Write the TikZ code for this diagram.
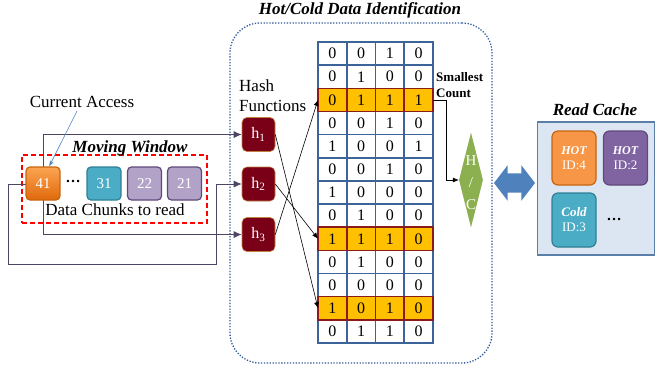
\documentclass[tikz,border=0pt]{standalone}
\usepackage{fontspec}
\setmainfont{Liberation Serif}
\usepackage{xcolor}
\usetikzlibrary{arrows.meta, shapes.geometric, shapes.arrows}

\definecolor{gridblue}{HTML}{3D6499}
\definecolor{hitfill}{HTML}{FFC000}
\definecolor{hitred}{HTML}{8B1A1A}
\definecolor{hashred}{HTML}{7A0018}
\definecolor{hashedge}{HTML}{C08040}
\definecolor{wirepurple}{HTML}{4E4466}
\definecolor{dotblue}{HTML}{2F5B9A}
\definecolor{orangetop}{HTML}{FBA552}
\definecolor{orangebot}{HTML}{E0690B}
\definecolor{orangeedge}{HTML}{C8640E}
\definecolor{tealfill}{HTML}{4BACC6}
\definecolor{tealedge}{HTML}{2F7F93}
\definecolor{lilacfill}{HTML}{B3A2C7}
\definecolor{lilacedge}{HTML}{5F497A}
\definecolor{hcgreen}{HTML}{8CB050}
\definecolor{swapblue}{HTML}{4F81BD}
\definecolor{cachefill}{HTML}{DCE6F2}
\definecolor{cacheedge}{HTML}{5B7FA8}
\definecolor{hotorange}{HTML}{F79646}
\definecolor{hotpurple}{HTML}{8064A2}
\newcommand{\bigtext}{\fontsize{17}{20}\selectfont}
\tikzset{wiretip/.tip={Latex[length=8pt, width=7pt]}}

\begin{document}
\begin{tikzpicture}[x=1pt, y=-1pt,
      txt/.style={font=\bigtext, inner sep=1pt},
      headline/.style={font=\bigtext\bfseries\itshape, inner sep=1pt},
      chunk/.style={draw, rounded corners=4pt, line width=1.2pt, minimum width=34pt, minimum height=33pt, inner sep=0pt, text=white, font=\fontsize{15}{17}\selectfont},
      hashbox/.style={fill=hashred, draw=hashedge, line width=0.6pt, rounded corners=5pt, minimum width=33pt, minimum height=34pt, inner sep=0pt, text=white, font=\fontsize{16}{18}\selectfont},
      bitcell/.style={draw=gridblue, line width=1.6pt, fill=white, minimum width=28.75pt, minimum height=23.15pt, inner sep=0pt, outer sep=0pt, font=\fontsize{16}{18}\selectfont},
      hitcell/.style={bitcell, fill=hitfill},
      hitline/.style={draw=hitred, line width=1.6pt},
      wire/.style={draw=wirepurple, line width=0.8pt},
      hashline/.style={-{Latex[length=6pt, width=5pt]}, line width=0.6pt, black},
      cacheitem/.style={draw, rounded corners=6pt, line width=1.2pt, minimum width=44pt, minimum height=54pt, inner sep=0pt, align=center, text=white, font=\fontsize{13}{15}\selectfont}
    ]
      \useasboundingbox (0,0) rectangle (655,368);

      % Identification block (dotted frame)
      \node[draw=dotblue, line width=1.3pt, dash pattern=on 1.3pt off 1.6pt, rounded corners=30pt, minimum width=262pt, minimum height=340pt] (ident) at (361,193) {};
      \node[headline] (identtitle) at (360,10) {Hot/Cold Data Identification};

      % Moving window with the data chunks
      \node[draw=red, dashed, dash pattern=on 5pt off 3pt, line width=1.5pt, minimum width=185pt, minimum height=68pt] (window) at (114.5,189) {};
      \node[headline] (windowtitle) at (130,148) {Moving Window};
      \node[txt] (chunklabel) at (115,210) {Data Chunks to read};

      % Hash functions
      \node[hashbox] (h1) at (258.5,134.5) {h\textsubscript{1}};
      \node[hashbox] (h2) at (258.5,184) {h\textsubscript{2}};
      \node[hashbox] (h3) at (258.5,234.5) {h\textsubscript{3}};
      \node[txt, align=left, anchor=west] (hashlabel) at (238,96) {Hash\\Functions};

      % Wires from the current chunk to the hash functions
      \coordinate (tapx) at (43,184);
      \coordinate (loopturn) at (216,264);
      \draw[wire, wiretip-wiretip] (h1.west) -- (h1.west -| tapx) -- (h3.west -| tapx) -- (h3.west);
      \draw[wire, -wiretip] (tapx) -- (8,184) |- (loopturn) |- (h2.west);

      \node[chunk, draw=orangeedge, top color=orangetop, bottom color=orangebot] (c41) at (43,183.5) {41};
      \node[font=\fontsize{15}{17}\selectfont\bfseries, inner sep=0pt] (chunkdots) at (73,181) {\ldots};
      \node[chunk, draw=tealedge, fill=tealfill] (c31) at (104,183.5) {31};
      \node[chunk, draw=lilacedge, fill=lilacfill] (c22) at (144.5,183.5) {22};
      \node[chunk, draw=lilacedge, fill=lilacfill] (c21) at (184.5,183.5) {21};

      \node[txt] (curacc) at (82,102) {Current Access};
      \draw[swapblue, line width=0.6pt, -{Stealth[length=6pt, width=4pt]}] (77,111) -- (c41.70);

      % Counter table
      \foreach \r/\kind/\bits in {1/bitcell/{0,0,1,0}, 2/bitcell/{0,1,0,0}, 3/hitcell/{0,1,1,1},
          4/bitcell/{0,0,1,0}, 5/bitcell/{1,0,0,1}, 6/bitcell/{0,0,1,0}, 7/bitcell/{1,0,0,0},
          8/bitcell/{0,1,0,0}, 9/hitcell/{1,1,1,0}, 10/bitcell/{0,1,0,0}, 11/bitcell/{0,0,0,0},
          12/hitcell/{1,0,1,0}, 13/bitcell/{0,1,1,0}}
        \foreach \b [count=\c] in \bits
          \node[\kind] (c-\r-\c) at ({332.375+(\c-1)*28.75},{53.575+(\r-1)*23.15}) {\b};
      \foreach \r in {3,9,12}
        \foreach \c in {1,...,4}
          \draw[hitline] (c-\r-\c.north west) rectangle (c-\r-\c.south east);

      \draw[hashline] (h1.east) -- (c-12-1.west);
      \draw[hashline] (h2.east) -- (c-9-1.west);
      \draw[hashline] (h3.east) -- (c-3-1.west);

      % Smallest count goes to the hot/cold decision
      \node[font=\fontsize{13}{16}\selectfont\bfseries, align=left, anchor=west, inner sep=0pt] (smallest) at (436,85) {Smallest\\Count};
      \node[diamond, fill=hcgreen, minimum width=24pt, minimum height=95pt, inner sep=0pt] (hc) at (471,180) {};
      \node[text=white, font=\fontsize{15}{22}\selectfont, align=center, inner sep=0pt] (hctext) at (471,183) {H\\/\\C};
      \draw[hashline] (c-3-4.east) -- ++(13,0) |- (hc.west);

      \node[double arrow, fill=swapblue, inner xsep=0pt, inner ysep=9.5pt, minimum height=41pt, double arrow head extend=8pt, double arrow tip angle=105] (swap) at (514.5,183) {};

      % Read cache
      \node[draw=cacheedge, fill=cachefill, line width=1.2pt, minimum width=117pt, minimum height=133pt] (cache) at (596,188.5) {};
      \node[headline] (cachetitle) at (595,110) {Read Cache};
      \node[cacheitem, draw=orangeedge, fill=hotorange] (hot4) at (574,158) {{\fontsize{12}{14}\selectfont\bfseries\itshape HOT}\\ID:4};
      \node[cacheitem, draw=lilacedge, fill=hotpurple] (hot2) at (625.5,158) {{\fontsize{12}{14}\selectfont\bfseries\itshape HOT}\\ID:2};
      \node[cacheitem, draw=tealedge, fill=tealfill] (cold3) at (574,220) {{\fontsize{13}{15}\selectfont\bfseries\itshape Cold}\\ID:3};
      \node[font=\fontsize{15}{17}\selectfont\bfseries, inner sep=0pt] (cachedots) at (614,219) {\ldots};
    \end{tikzpicture}
\end{document}
